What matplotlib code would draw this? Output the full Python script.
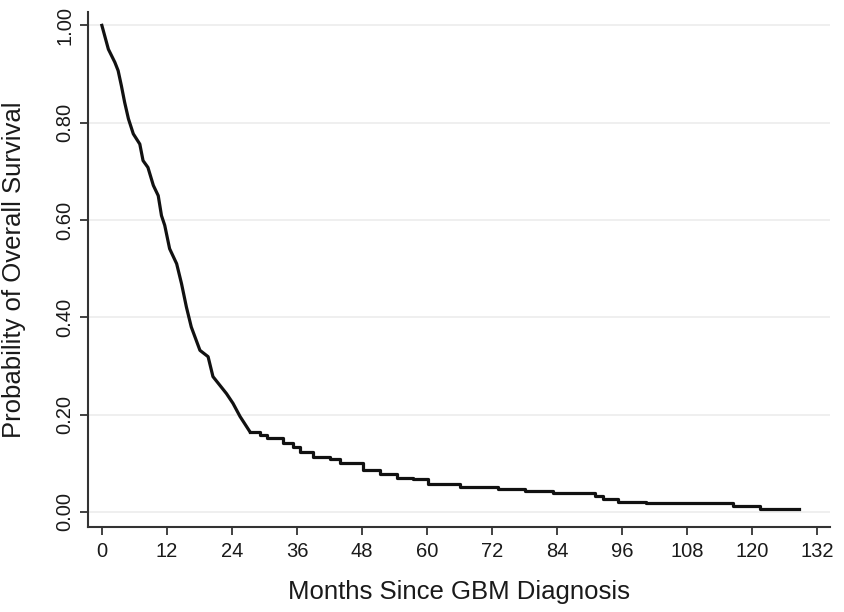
import numpy as np
import matplotlib
matplotlib.use('Agg')
import matplotlib.pyplot as plt

plt.rcParams['font.family'] = ['Liberation Sans', 'DejaVu Sans']

# meses desde o diagnostico e probabilidade de sobrevida
meses = [0.0, 1.2, 2.4, 3.0, 3.6, 4.2, 4.9, 5.8, 7.0, 7.6, 8.5, 9.5, 10.4, 11.0,
         11.6, 12.5, 13.8, 14.7, 15.6, 16.5, 18.1, 19.6, 20.5, 21.5, 23.0, 24.2,
         25.5, 27.3, 29.2, 30.4, 33.4, 35.3, 36.5, 39.0, 42.1, 43.9, 48.2, 51.3,
         54.4, 57.4, 60.2, 66.1, 73.1, 78.0, 83.3, 91.0, 92.5, 95.3, 100.5,
         116.5, 121.4, 128.7]
sobrevida = [1.000, 0.951, 0.924, 0.907, 0.876, 0.842, 0.808, 0.777, 0.756, 0.722,
             0.708, 0.671, 0.650, 0.609, 0.589, 0.541, 0.510, 0.469, 0.421, 0.380,
             0.332, 0.319, 0.278, 0.264, 0.243, 0.223, 0.196, 0.165, 0.158, 0.151,
             0.141, 0.134, 0.124, 0.113, 0.108, 0.100, 0.086, 0.078, 0.069, 0.068,
             0.057, 0.052, 0.047, 0.043, 0.038, 0.033, 0.026, 0.021, 0.018,
             0.012, 0.005, 0.005]

xticks = list(range(0, 133, 12))
yticks = [0.0, 0.2, 0.4, 0.6, 0.8, 1.0]

fig = plt.figure(figsize=(8.44, 6.12), dpi=100)
ax = fig.add_axes([0.104, 0.139, 0.879, 0.841])

# parte inicial tem eventos muito densos: desenha como linha continua
corte = next(i for i, m in enumerate(meses) if m >= 27.3)
ax.plot(meses[:corte + 1], sobrevida[:corte + 1], color='#111111', lw=2.3,
        solid_joinstyle='round')
ax.plot(meses[corte:], sobrevida[corte:], drawstyle='steps-post',
        color='#111111', lw=2.3)

ax.set_xlim(-2.6, 134.3)
ax.set_ylim(-0.031, 1.027)
ax.set_xticks(xticks)
ax.set_yticks(yticks)
ax.set_yticklabels(['%.2f' % v for v in yticks], rotation=90, va='center')
ax.grid(axis='y', color='#ececec', lw=1.2)
ax.set_axisbelow(True)

for s in ['top', 'right']:
    ax.spines[s].set_visible(False)
for s in ['left', 'bottom']:
    ax.spines[s].set_color('#333333')
    ax.spines[s].set_linewidth(1.5)
ax.tick_params(colors='#333333', labelcolor='#1a1a1a', labelsize=14.5,
               length=6, width=1.3)
ax.tick_params(axis='x', pad=5)

ax.set_xlabel('Months Since GBM Diagnosis', fontsize=18.5, color='#1a1a1a', va='center')
ax.set_ylabel('Probability of Overall Survival', fontsize=18.5, color='#1a1a1a', va='center')
ax.xaxis.set_label_coords(0.5, -0.126)
ax.yaxis.set_label_coords(-0.099, 0.5)

plt.savefig('out.png', dpi=100)
